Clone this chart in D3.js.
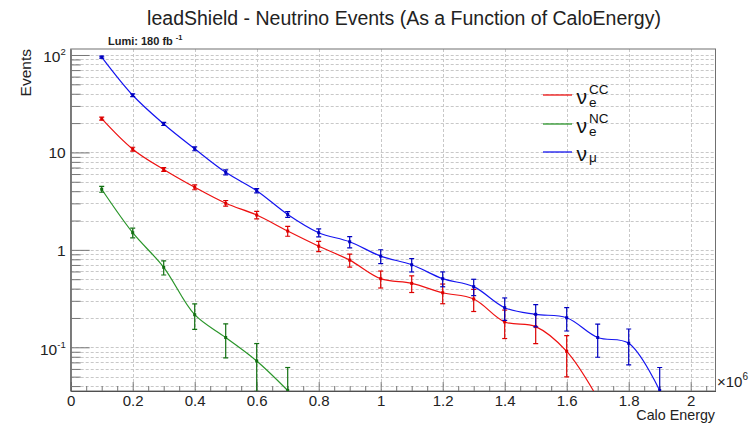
<!DOCTYPE html>
<html>
<head>
<meta charset="utf-8">
<script src="https://cdn.jsdelivr.net/npm/d3@7"></script>
<style>
  body { margin: 0; background: #fff; }
  svg { display: block; }
  text { font-family: "Liberation Sans", Arial, Helvetica, sans-serif; }
</style>
</head>
<body>
<svg id="chart" width="749" height="423"></svg>
<script>
// Calorimeter energy bins (in units of 10^6)
const caloEnergy = [0.1, 0.2, 0.3, 0.4, 0.5, 0.6, 0.7, 0.8, 0.9, 1.0,
                    1.1, 1.2, 1.3, 1.4, 1.5, 1.6, 1.7, 1.8, 1.9];

// nu_e charged current
const nueCC    = [22.2, 10.8, 6.68, 4.39, 3.01, 2.28, 1.56, 1.09, 0.785, 0.506,
                  0.453, 0.363, 0.313, 0.182, 0.163, 0.0908, 0.03];
const nueCCErr = [0.78, 0.5, 0.3, 0.25, 0.2, 0.2, 0.18, 0.13, 0.12, 0.1,
                  0.088, 0.083, 0.08, 0.059, 0.054, 0.041, 0.005];

// nu_e neutral current
const nueNC    = [4.19, 1.50, 0.662, 0.216, 0.126, 0.0723, 0.036];
const nueNCErr = [0.29, 0.17, 0.11, 0.063, 0.048, 0.037, 0.026];

// nu_mu
const numu    = [95, 38.6, 19.6, 10.9, 6.25, 4.05, 2.31, 1.50, 1.21, 0.863,
                 0.703, 0.506, 0.419, 0.255, 0.218, 0.201, 0.126, 0.110, 0.036];
const numuErr = [2.2, 1.3, 0.7, 0.5, 0.37, 0.2, 0.16, 0.14, 0.16, 0.14,
                 0.11, 0.088, 0.08, 0.066, 0.056, 0.054, 0.047, 0.044, 0.026];

const xMajorTicks = [0, 0.2, 0.4, 0.6, 0.8, 1, 1.2, 1.4, 1.6, 1.8, 2];
const xTickLabels = ["0", "0.2", "0.4", "0.6", "0.8", "1", "1.2", "1.4", "1.6", "1.8", "2"];
const yMajorTicks = [0.1, 1, 10, 100];
const yTickBase   = ["10", "1", "10", "10"];
const yTickExp    = ["-1", "", "", "2"];

const series = [
  { name: "nueCC", values: nueCC, errors: nueCCErr, color: "#ee1111", barColor: "#dd0000" },
  { name: "nueNC", values: nueNC, errors: nueNCErr, color: "#2a952a", barColor: "#127012" },
  { name: "numu",  values: numu,  errors: numuErr,  color: "#1515f0", barColor: "#0000c0" }
];

const svg = d3.select("#chart");
const fLeft = 70.7, fRight = 715.5, fTop = 49, fBottom = 391;

const x = d3.scaleLinear().domain([0, 2.08]).range([fLeft, fRight]);
const y = d3.scaleLog().domain([0.0356, 115.2]).range([fBottom, fTop]);

// Minor positions on the log axis (2..9 in each decade)
const yMinor = [];
for (let dec = -2; dec <= 2; dec++) {
  for (let m = 2; m <= 9; m++) {
    const v = m * Math.pow(10, dec);
    if (v >= y.domain()[0] && v <= y.domain()[1]) yMinor.push(v);
  }
}
const yAllGrid = yMinor.concat(yMajorTicks).sort((a, b) => a - b);
const xMinor = d3.range(0, 2.081, 0.05).filter(v => Math.abs(v / 0.2 - Math.round(v / 0.2)) > 1e-6);

// Grid
const grid = svg.append("g").attr("stroke", "#c8c8c8").attr("stroke-width", 1)
  .attr("stroke-dasharray", "3,2").attr("fill", "none");
grid.selectAll("line.h").data(yAllGrid).join("line").attr("class", "h")
  .attr("x1", fLeft).attr("x2", fRight)
  .attr("y1", d => Math.round(y(d)) + 0.5).attr("y2", d => Math.round(y(d)) + 0.5);
grid.selectAll("line.v").data(xMajorTicks.filter(d => d > 0)).join("line").attr("class", "v")
  .attr("x1", d => Math.round(x(d)) + 0.5).attr("x2", d => Math.round(x(d)) + 0.5)
  .attr("y1", fTop).attr("y2", fBottom);

// Frame
svg.append("rect").attr("x", fLeft).attr("y", fTop)
  .attr("width", fRight - fLeft).attr("height", fBottom - fTop)
  .attr("fill", "none").attr("stroke", "#707070").attr("stroke-width", 1);

// X axis
const xAxisG = svg.append("g").attr("transform", `translate(0,${fBottom})`);
xAxisG.call(d3.axisBottom(x).tickValues(xMajorTicks).tickSize(-9).tickSizeOuter(0).tickPadding(4)
  .tickFormat((d, i) => xTickLabels[i]));
const xMinorG = svg.append("g").attr("transform", `translate(0,${fBottom})`);
xMinorG.call(d3.axisBottom(x).tickValues(xMinor).tickSize(-5).tickSizeOuter(0).tickFormat(""));
xMinorG.select(".domain").remove();

// Y axis
const yAxisG = svg.append("g").attr("transform", `translate(${fLeft},0)`);
yAxisG.call(d3.axisLeft(y).tickValues(yMajorTicks).tickSize(-19).tickSizeOuter(0).tickPadding(5)
  .tickFormat(() => ""));
const yMinorG = svg.append("g").attr("transform", `translate(${fLeft},0)`);
yMinorG.call(d3.axisLeft(y).tickValues(yMinor).tickSize(-10).tickSizeOuter(0).tickFormat(""));
yMinorG.select(".domain").remove();

[xAxisG, xMinorG, yAxisG, yMinorG].forEach(g => {
  g.selectAll(".tick line").attr("stroke", "#777");
  g.select(".domain").attr("stroke", "#505050");
});
xAxisG.selectAll(".tick text").attr("font-size", 15).attr("fill", "#222")
  .attr("font-family", "'Liberation Sans', Arial, sans-serif");

// Y tick labels with exponents
yAxisG.selectAll(".tick text").each(function(d, i) {
  const t = d3.select(this);
  t.text(null).attr("font-size", 15.5).attr("fill", "#222")
    .attr("font-family", "'Liberation Sans', Arial, sans-serif")
    .attr("dy", yTickExp[i] ? "0.45em" : "0.34em");
  t.append("tspan").text(yTickBase[i]);
  if (yTickExp[i]) {
    t.append("tspan").attr("font-size", 9.5).attr("dy", -7).text(yTickExp[i]);
  }
});

// Data curves, error bars and markers (clipped to the frame)
svg.append("clipPath").attr("id", "frameClip").append("rect")
  .attr("x", fLeft).attr("y", fTop).attr("width", fRight - fLeft).attr("height", fBottom - fTop);
const plot = svg.append("g").attr("clip-path", "url(#frameClip)");

const line = d3.line()
  .x(d => x(d.e)).y(d => y(d.v))
  .curve(d3.curveCatmullRom.alpha(0.5));

series.forEach(s => {
  const pts = s.values.map((v, i) => ({ e: caloEnergy[i], v: v, err: s.errors[i] }));
  plot.append("path").datum(pts).attr("d", line)
    .attr("fill", "none").attr("stroke", s.color).attr("stroke-width", 1.2);

  const bars = plot.append("g").attr("stroke", s.barColor).attr("stroke-width", 1.2).attr("fill", "none");
  pts.forEach(p => {
    const lo = Math.max(p.v - p.err, 1e-4);
    const hi = p.v + p.err;
    const px = x(p.e);
    bars.append("line").attr("x1", px).attr("x2", px).attr("y1", y(lo)).attr("y2", y(hi));
    bars.append("line").attr("x1", px - 2.5).attr("x2", px + 2.5).attr("y1", y(lo)).attr("y2", y(lo));
    bars.append("line").attr("x1", px - 2.5).attr("x2", px + 2.5).attr("y1", y(hi)).attr("y2", y(hi));
  });
  plot.append("g").attr("fill", s.barColor).selectAll("rect").data(pts).join("rect")
    .attr("x", d => x(d.e) - 1.5).attr("y", d => y(d.v) - 1.5)
    .attr("width", 3).attr("height", 3);
});

// Title and annotations
svg.append("text").attr("x", 404).attr("y", 25).attr("text-anchor", "middle")
  .attr("font-size", 19.5).attr("fill", "#222")
  .text("leadShield - Neutrino Events (As a Function of CaloEnergy)");

const lumi = svg.append("text").attr("x", 108).attr("y", 45)
  .attr("font-size", 11).attr("font-weight", "bold").attr("fill", "#222");
lumi.append("tspan").text("Lumi: 180 fb ");
lumi.append("tspan").attr("font-size", 7.5).attr("dy", -5).text("-1");

svg.append("text").attr("transform", "translate(30.5,49) rotate(-90)")
  .attr("text-anchor", "end").attr("font-size", 15.5).attr("fill", "#222").text("Events");

// Axis title sits right-aligned under the last tick labels
svg.append("text").attr("x", 715).attr("y", 420).attr("text-anchor", "end")
  .attr("font-size", 14.3).attr("fill", "#222").text("Calo Energy");

const mult = svg.append("text").attr("x", 717).attr("y", 387)
  .attr("font-size", 15).attr("fill", "#222");
mult.append("tspan").text("\u00d710");
mult.append("tspan").attr("font-size", 10).attr("dy", -7).text("6");

// Legend
const legendItems = [
  { color: series[0].color, sub: "e", sup: "CC", ly: 95 },
  { color: series[1].color, sub: "e", sup: "NC", ly: 124 },
  { color: series[2].color, sub: "\u03bc", sup: "",  ly: 152 }
];
const legend = svg.append("g");
legendItems.forEach(it => {
  legend.append("line").attr("x1", 543).attr("x2", 572).attr("y1", it.ly).attr("y2", it.ly)
    .attr("stroke", it.color).attr("stroke-width", 1.3);
  legend.append("text").attr("x", 576.5).attr("y", it.ly + 8.5)
    .attr("font-size", 21).attr("fill", "#111").text("\u03bd");
  legend.append("text").attr("x", 589).attr("y", it.ly + (it.sup ? 12 : 9.5))
    .attr("font-size", 13.5).attr("fill", "#111").text(it.sub);
  if (it.sup) {
    legend.append("text").attr("x", 589).attr("y", it.ly - 1.5)
      .attr("font-size", 13.5).attr("fill", "#111").text(it.sup);
  }
});
</script>
</body>
</html>
